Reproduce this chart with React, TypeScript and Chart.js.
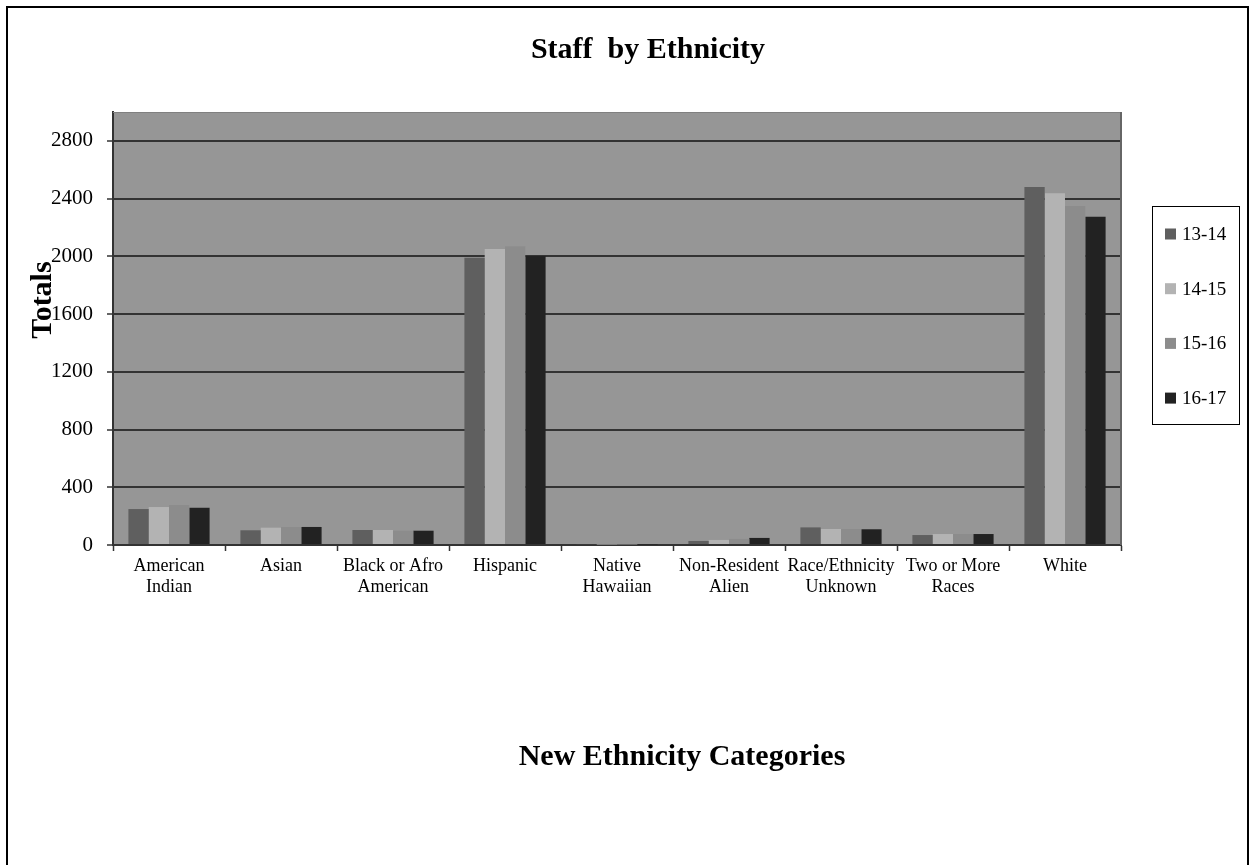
import React, { useEffect, useRef } from "react";
import { Chart, registerables } from "chart.js";

Chart.register(...registerables);

// Categories (multi-line labels are arrays)
const categories: (string | string[])[] = [
  ["American", "Indian"],
  "Asian",
  ["Black or Afro", "American"],
  "Hispanic",
  ["Native", "Hawaiian"],
  ["Non-Resident", "Alien"],
  ["Race/Ethnicity", "Unknown"],
  ["Two or More", "Races"],
  "White",
];

const seriesNames = ["13-14", "14-15", "15-16", "16-17"];

const staff1314 = [249, 102, 104, 1991, 6, 28, 122, 69, 2481];
const staff1415 = [263, 120, 104, 2051, 3, 35, 111, 76, 2437];
const staff1516 = [277, 125, 99, 2070, 3, 42, 111, 76, 2349];
const staff1617 = [258, 125, 99, 2003, 3, 49, 109, 76, 2275];

const yTickValues = [0, 400, 800, 1200, 1600, 2000, 2400, 2800];

const chartTitle = "Staff  by Ethnicity";
const xTitle = "New Ethnicity Categories";
const yTitle = "Totals";

const seriesColors = ["#5f5f5f", "#b3b3b3", "#8c8c8c", "#222222"];
const FONT = "'Liberation Serif', 'Times New Roman', serif";

// Background, outer frame and plot-area fill
const backdropPlugin = {
  id: "backdrop",
  beforeDraw(chart: any) {
    const { ctx, chartArea } = chart;
    ctx.save();
    ctx.fillStyle = "#ffffff";
    ctx.fillRect(0, 0, chart.width, chart.height);
    ctx.strokeStyle = "#000000";
    ctx.lineWidth = 2;
    ctx.strokeRect(7, 7, 1241, 900);
    ctx.fillStyle = "#969696";
    ctx.fillRect(chartArea.left, chartArea.top, chartArea.right - chartArea.left, chartArea.bottom - chartArea.top);
    ctx.restore();
  },
  afterDatasetsDraw(chart: any) {
    const { ctx, chartArea } = chart;
    ctx.save();
    ctx.strokeStyle = "#808080";
    ctx.lineWidth = 1;
    ctx.beginPath();
    ctx.moveTo(chartArea.left, chartArea.top + 0.5);
    ctx.lineTo(chartArea.right, chartArea.top + 0.5);
    ctx.stroke();
    ctx.strokeStyle = "#666666";
    ctx.lineWidth = 2;
    ctx.beginPath();
    ctx.moveTo(chartArea.right, chartArea.top);
    ctx.lineTo(chartArea.right, chartArea.bottom);
    ctx.stroke();
    ctx.restore();
  },
};

// Chart title, axis titles and the boxed legend
const annotationsPlugin = {
  id: "annotations",
  afterDraw(chart: any) {
    const { ctx } = chart;
    ctx.save();
    ctx.fillStyle = "#000000";
    ctx.font = `bold 30px ${FONT}`;
    ctx.textAlign = "center";
    ctx.textBaseline = "alphabetic";
    ctx.fillText(chartTitle, 648, 58);
    ctx.fillText(xTitle, 682, 765);

    ctx.save();
    ctx.translate(51, 300);
    ctx.rotate(-Math.PI / 2);
    ctx.fillText(yTitle, 0, 0);
    ctx.restore();

    // legend box
    ctx.strokeStyle = "#000000";
    ctx.lineWidth = 1;
    ctx.strokeRect(1152.5, 206.5, 87, 218);
    ctx.font = `19px ${FONT}`;
    ctx.textAlign = "left";
    ctx.textBaseline = "middle";
    chart.data.datasets.forEach((ds: any, i: number) => {
      const cy = 234 + i * 54.7;
      ctx.fillStyle = ds.backgroundColor;
      ctx.fillRect(1165, cy - 5.5, 11, 11);
      ctx.fillStyle = "#000000";
      ctx.fillText(ds.label, 1182, cy + 1);
    });
    ctx.restore();
  },
};

export default function App() {
  const canvasRef = useRef<HTMLCanvasElement | null>(null);

  useEffect(() => {
    const canvas = canvasRef.current;
    if (!canvas) return;
    const seriesData = [staff1314, staff1415, staff1516, staff1617];
    const chart = new Chart(canvas, {
      type: "bar",
      data: {
        labels: categories,
        datasets: seriesNames.map((name, i) => ({
          label: name,
          data: seriesData[i],
          backgroundColor: seriesColors[i],
          borderWidth: 0,
          categoryPercentage: 0.725,
          barPercentage: 1,
        })),
      },
      options: {
        responsive: false,
        animation: false,
        devicePixelRatio: 1,
        layout: { padding: { top: 112, left: 0, right: 129, bottom: 260 } },
        plugins: {
          legend: { display: false },
          title: { display: false },
          tooltip: { enabled: false },
        },
        scales: {
          x: {
            offset: true,
            grid: {
              offset: true,
              drawOnChartArea: false,
              drawTicks: true,
              tickLength: 6,
              tickColor: "#333333",
              tickWidth: 1.5,
            },
            border: { display: true, color: "#333333", width: 2 },
            ticks: {
              color: "#000000",
              padding: 5,
              maxRotation: 0,
              autoSkip: false,
              font: { family: FONT, size: 18, lineHeight: 1.17 },
            },
            afterFit(scale: any) {
              scale.height = 60;
            },
          },
          y: {
            min: 0,
            max: 3000,
            ticks: {
              stepSize: 400,
              color: "#000000",
              padding: 14,
              font: { family: FONT, size: 21 },
              callback: (value: any) => String(value),
            },
            afterBuildTicks(scale: any) {
              scale.ticks = yTickValues.map((v) => ({ value: v }));
            },
            grid: {
              color: "#333333",
              lineWidth: 2,
              drawTicks: true,
              tickLength: 6,
              tickColor: "#333333",
              tickWidth: 1.5,
            },
            border: { display: true, color: "#333333", width: 2 },
            afterFit(scale: any) {
              scale.width = 113;
            },
          },
        },
      },
      plugins: [backdropPlugin, annotationsPlugin],
    });
    return () => chart.destroy();
  }, []);

  return (
    <div style={{ position: "absolute", left: 0, top: 0, width: 1250, height: 865, background: "#fff" }}>
      <canvas ref={canvasRef} width={1250} height={865} style={{ display: "block" }} />
    </div>
  );
}
